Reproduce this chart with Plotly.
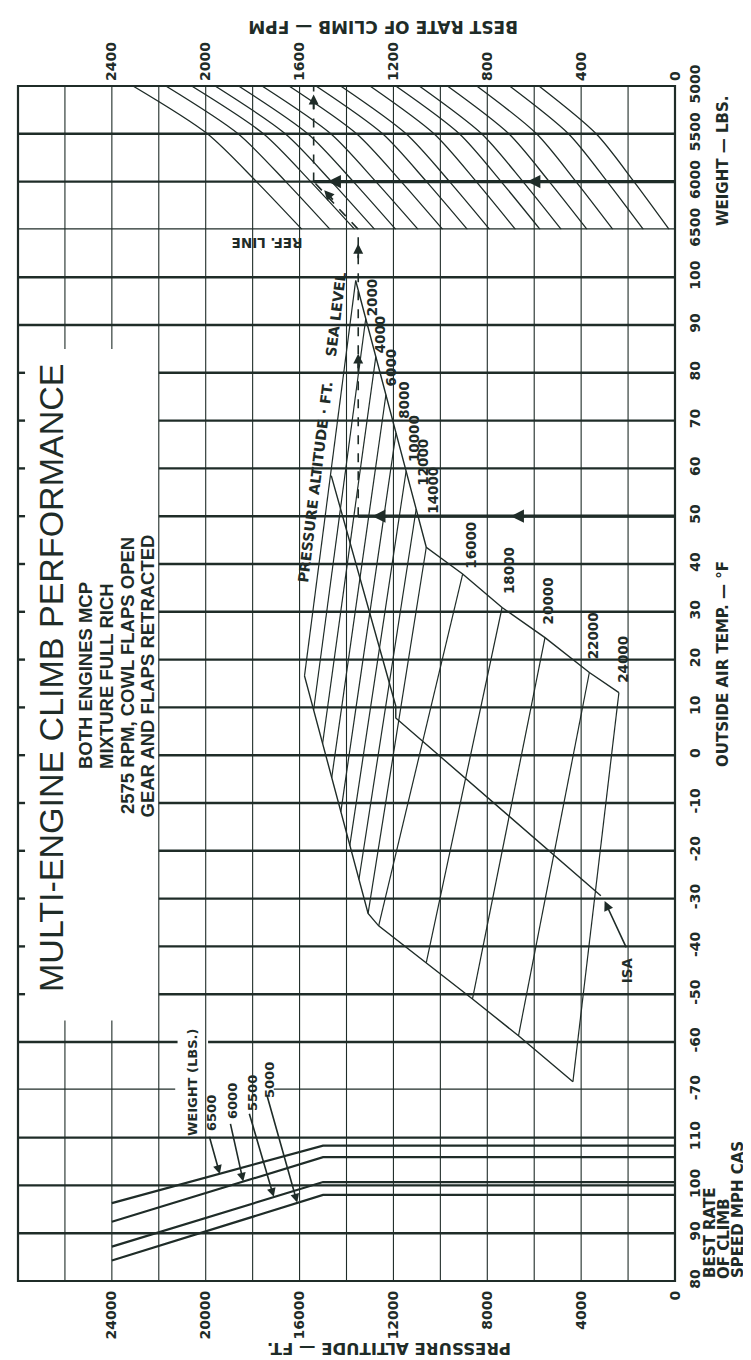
import plotly.graph_objects as go

INK = '#1f2c28'
BOLD = dict(family='DejaVu Sans', color=INK, weight='bold')

# ---------------- data ----------------
alt_ticks = [0, 4000, 8000, 12000, 16000, 20000, 24000]
alt_tick_text = ['0', '4000', '8000', '12000', '16000', '20000', '24000']
roc_ticks = [0, 400, 800, 1200, 1600, 2000, 2400]
roc_tick_text = ['0', '400', '800', '1200', '1600', '2000', '2400']
oat_ticks = [100, 90, 80, 70, 60, 50, 40, 30, 20, 10, 0, -10, -20, -30, -40, -50, -60, -70]
oat_tick_text = ['100', '90', '80', '70', '60', '50', '40', '30', '20', '10', '0',
                 '-10', '-20', '-30', '-40', '-50', '-60', '-70']
weight_ticks = [5000, 5500, 6000, 6500]
speed_ticks = [80, 90, 100, 110]

# weight-correction guide curves: best rate of climb (fpm) at each weight line
guide_weights = [5000, 5500, 6000, 6500]
guide_roc_5000 = [2310, 2170, 2060, 1960, 1860, 1760, 1645, 1530, 1425, 1300, 1190, 1090, 970, 845, 705, 580]
guide_roc_5500 = [1993, 1862, 1754, 1661, 1565, 1467, 1357, 1246, 1146, 1027, 919, 824, 708, 590, 454, 336]
guide_roc_6000 = [1784, 1659, 1553, 1464, 1371, 1275, 1167, 1059, 961, 847, 741, 648, 536, 422, 289, 175]
guide_roc_6500 = [1590, 1470, 1365, 1280, 1190, 1095, 990, 885, 790, 680, 575, 485, 375, 265, 135, 25]

# pressure-altitude lines: hot-limit end and cold-limit end (OAT degF, rate fpm)
press_alt = [0, 2000, 4000, 6000, 8000, 10000, 12000, 14000, 16000, 18000, 20000, 22000, 24000]
press_alt_text = ['SEA LEVEL', '2000', '4000', '6000', '8000', '10000', '12000', '14000',
                  '16000', '18000', '20000', '22000', '24000']
hot_oat = [99.3, 91.3, 83.4, 75.4, 67.4, 59.4, 51.5, 43.5, 37.9, 30.9, 24.6, 17.3, 13.1]
hot_roc = [1361, 1318, 1275, 1232, 1189, 1146, 1103, 1060, 905, 737, 554, 365, 239]
cold_oat = [16.6, 9.5, 2.4, -4.7, -11.8, -18.9, -26.0, -33.1, -35.7, -43.4, -51.0, -58.7, -68.3]
cold_roc = [1579, 1540, 1502, 1463, 1424, 1386, 1347, 1308, 1263, 1060, 863, 667, 435]
# label positions for the altitude lines (2000 ... 24000)
alt_label_oat = [95.8, 88.1, 81.1, 74.4, 66.3, 61.4, 55.5, 44.0, 38.6, 32.3, 25.0, 20.0]
alt_label_roc = [1291, 1256, 1211, 1158, 1113, 1074, 1032, 870, 710, 543, 351, 225]

# ISA line
isa_oat = [58.5, 10.3, 7.8, -29.4]
isa_roc = [1465, 1190, 1190, 316]

# worked example
ex_oat = 50
ex_roc_ref = 1350
ex_weight = 6000
ex_roc_final = 1540
ex_path_weight = [6500, 6250, 6000]
ex_path_roc = [1350, 1445, 1540]

# best rate of climb speed (mph CAS) vs pressure altitude
speed_weight = ['6500', '6000', '5500', '5000']
speed_alt = [0, 15000, 24000]
speed_mph = [[108.3, 108.3, 96.3],
             [105.9, 105.9, 92.4],
             [100.7, 100.7, 87.2],
             [98.0, 98.0, 84.3]]
speed_tip_alt = [19400, 18400, 17100, 16100]
speed_tip_mph = [102.4, 100.8, 97.6, 96.4]
speed_tail_alt = [19860, 18960, 18160, 17400]
speed_tail_mph = [110.5, 113.2, 115.3, 119.0]

# ---------------- figure ----------------
L, T, W, H = 10, 78, 657, 1195


def px(x, y):
    return (x - L) / W, 1 - (y - T) / H


def uy(u):
    return 1 - u / 25.0


fig = go.Figure()

# guide curves (weight panel)
for a, b, c, d in zip(guide_roc_5000, guide_roc_5500, guide_roc_6000, guide_roc_6500):
    fig.add_trace(go.Scatter(x=[a, b, c, d], y=guide_weights, mode='lines',
                             line=dict(color=INK, width=1.3, shape='spline', smoothing=0.8),
                             xaxis='x2', yaxis='y2', hoverinfo='skip'))

# altitude lines
xs, ys = [], []
for h_r, h_t, c_r, c_t in zip(hot_roc, hot_oat, cold_roc, cold_oat):
    xs += [h_r, c_r, None]
    ys += [h_t, c_t, None]
fig.add_trace(go.Scatter(x=xs, y=ys, mode='lines', line=dict(color=INK, width=1.2),
                         xaxis='x2', yaxis='y', hoverinfo='skip'))
fig.add_trace(go.Scatter(x=hot_roc, y=hot_oat, mode='lines', line=dict(color=INK, width=1.4),
                         xaxis='x2', yaxis='y', hoverinfo='skip'))
fig.add_trace(go.Scatter(x=cold_roc, y=cold_oat, mode='lines', line=dict(color=INK, width=1.4),
                         xaxis='x2', yaxis='y', hoverinfo='skip'))
fig.add_trace(go.Scatter(x=isa_roc, y=isa_oat, mode='lines', line=dict(color=INK, width=1.4),
                         xaxis='x2', yaxis='y', hoverinfo='skip'))

# worked example
fig.add_trace(go.Scatter(x=[0, ex_roc_ref], y=[ex_oat, ex_oat], mode='lines',
                         line=dict(color=INK, width=3.2), xaxis='x2', yaxis='y', hoverinfo='skip'))
fig.add_trace(go.Scatter(x=[ex_roc_ref, ex_roc_ref], y=[ex_oat, 110], mode='lines',
                         line=dict(color=INK, width=1.6, dash='dash'), xaxis='x2', yaxis='y', hoverinfo='skip'))
fig.add_trace(go.Scatter(x=ex_path_roc, y=ex_path_weight, mode='lines',
                         line=dict(color=INK, width=1.6, dash='dash', shape='spline'),
                         xaxis='x2', yaxis='y2', hoverinfo='skip'))
fig.add_trace(go.Scatter(x=[ex_roc_final, ex_roc_final], y=[ex_weight, 5000], mode='lines',
                         line=dict(color=INK, width=1.6, dash='dash'), xaxis='x2', yaxis='y2', hoverinfo='skip'))
fig.add_trace(go.Scatter(x=[0, ex_roc_final], y=[ex_weight, ex_weight], mode='lines',
                         line=dict(color=INK, width=3.2), xaxis='x2', yaxis='y2', hoverinfo='skip'))

# speed lines
for row in speed_mph:
    fig.add_trace(go.Scatter(x=speed_alt, y=row, mode='lines', line=dict(color=INK, width=2.2),
                             xaxis='x', yaxis='y3', hoverinfo='skip'))

# ---------------- grid shapes ----------------
shapes = []
for a in range(2000, 28000, 2000):
    if a in (24000, 26000):
        segs = [(0, uy(19.55)), (uy(5.5), 1)]
    else:
        segs = [(0, 1)]
    for y0, y1 in segs:
        shapes.append(dict(type='line', xref='x', yref='paper', x0=a, x1=a, y0=y0, y1=y1,
                           line=dict(color=INK, width=1.1)))
for w in weight_ticks[1:]:
    shapes.append(dict(type='line', xref='paper', yref='y2', x0=0, x1=1, y0=w, y1=w,
                       line=dict(color=INK, width=2.4)))
for t in oat_ticks:
    if -50 <= t <= 80:
        segs = [(28000, 27700), (22000, 0)]
    elif t == -60:
        segs = [(28000, 21200), (19900, 0)]
    elif t == -70:
        segs = [(28000, 21300), (17100, 0)]
    else:
        segs = [(28000, 0)]
    for x0, x1 in segs:
        shapes.append(dict(type='line', xref='x', yref='y', x0=x0, x1=x1, y0=t, y1=t,
                           line=dict(color=INK, width=2.4)))
for s in speed_ticks[1:]:
    shapes.append(dict(type='line', xref='paper', yref='y3', x0=0, x1=1, y0=s, y1=s,
                       line=dict(color=INK, width=2.4)))
shapes.append(dict(type='rect', xref='paper', yref='paper', x0=0, x1=1, y0=0, y1=1,
                   line=dict(color=INK, width=2.2)))

# ---------------- annotations ----------------
ann = []


def text_px(x, y, s, size=14, angle=-90, bold=True, family='DejaVu Sans'):
    xp, yp = px(x, y)
    f = dict(family=family, size=size, color=INK)
    if bold:
        f['weight'] = 'bold'
    ann.append(dict(xref='paper', yref='paper', x=xp, y=yp, text=s, showarrow=False,
                    xanchor='center', yanchor='middle', textangle=angle, font=f))


text_px(43, 670, 'MULTI-ENGINE CLIMB PERFORMANCE', size=34, bold=False, family='Liberation Sans')
for xx, s in zip([77, 98, 119, 138.5], ['BOTH ENGINES MCP', 'MIXTURE FULL RICH',
                                        '2575 RPM, COWL FLAPS OPEN', 'GEAR AND FLAPS RETRACTED']):
    text_px(xx, 668, s, size=18.5, family='Liberation Sans')
text_px(375, 19, 'BEST RATE OF CLIMB — FPM', size=17, angle=180)
text_px(381, 1340, 'PRESSURE ALTITUDE — FT.', size=16.5, angle=180)
text_px(715, 656, 'OUTSIDE AIR TEMP. — °F', size=15)
text_px(715, 153, 'WEIGHT — LBS.', size=15)
text_px(702, 1225, 'BEST RATE', size=15)
text_px(716, 1231, 'OF CLIMB', size=15)
text_px(730, 1202, 'SPEED MPH CAS', size=15)

# speed panel weight labels
text_px(184, 1075, 'WEIGHT (LBS.)', size=13)
for xx, yy, s in zip([203, 224, 244, 261], [1105, 1093, 1085, 1072], speed_weight):
    text_px(xx, yy, s, size=13)

# labels in data coordinates
ann.append(dict(xref='x2', yref='y', x=1740, y=107.2, text='REF. LINE', showarrow=False,
                textangle=180, font=dict(size=13.5, **BOLD)))
ann.append(dict(xref='x2', yref='y', x=1505, y=68.5,
                text='PRESSURE ALTITUDE · FT.     ' + press_alt_text[0],
                showarrow=False, textangle=-83, font=dict(size=14.3, **BOLD)))
for s, t, r in zip(press_alt_text[1:], alt_label_oat, alt_label_roc):
    ann.append(dict(xref='x2', yref='y', x=r, y=t, text=s, showarrow=False, textangle=-90,
                    font=dict(size=13.5, **BOLD)))
ann.append(dict(xref='x2', yref='y', x=205, y=-45, text='ISA', showarrow=False, textangle=-90,
                font=dict(size=13.5, **BOLD)))
ann.append(dict(xref='x2', yref='y', x=300, y=-30.5, axref='x2', ayref='y', ax=205, ay=-40.5,
                text='', showarrow=True, arrowhead=2, arrowsize=1.2, arrowwidth=1.6, arrowcolor=INK))

# arrowheads along the worked example
for r in (700, 1290):
    ann.append(dict(xref='x2', yref='y', x=r, y=ex_oat, ax=16, ay=0, text='', showarrow=True,
                    arrowhead=2, arrowsize=1.1, arrowwidth=2.4, arrowcolor=INK))
for t in (84, 107):
    ann.append(dict(xref='x2', yref='y', x=ex_roc_ref, y=t, ax=0, ay=16, text='', showarrow=True,
                    arrowhead=2, arrowsize=1.1, arrowwidth=1.8, arrowcolor=INK))
for r in (630, 1480):
    ann.append(dict(xref='x2', yref='y2', x=r, y=ex_weight, ax=16, ay=0, text='', showarrow=True,
                    arrowhead=2, arrowsize=1.1, arrowwidth=2.4, arrowcolor=INK))
ann.append(dict(xref='x2', yref='y2', x=ex_roc_final, y=5090, ax=0, ay=16, text='', showarrow=True,
                arrowhead=2, arrowsize=1.1, arrowwidth=1.8, arrowcolor=INK))
ann.append(dict(xref='x2', yref='y2', x=1495, y=6090, ax=10, ay=11, text='', showarrow=True,
                arrowhead=2, arrowsize=1.1, arrowwidth=1.8, arrowcolor=INK))

# speed panel arrows
for ta, tm, pa, pm in zip(speed_tail_alt, speed_tail_mph, speed_tip_alt, speed_tip_mph):
    ann.append(dict(xref='x', yref='y3', x=pa, y=pm, axref='x', ayref='y3', ax=ta, ay=tm, text='',
                    showarrow=True, arrowhead=2, arrowsize=1.1, arrowwidth=1.6, arrowcolor=INK))

tickfont = dict(size=14, **BOLD)
common = dict(showgrid=False, zeroline=False, showline=False, ticks='', tickmode='array',
              tickangle=-90, tickfont=tickfont)
fig.update_layout(
    width=751, height=1360, margin=dict(l=L, r=751 - L - W, t=T, b=1360 - T - H),
    paper_bgcolor='white', plot_bgcolor='rgba(0,0,0,0)', showlegend=False,
    xaxis=dict(domain=[0, 1], range=[28000.01, -0.01], anchor='y3', side='bottom',
               tickvals=alt_ticks, ticktext=alt_tick_text, ticklabelstandoff=6, **common),
    xaxis2=dict(domain=[0, 1], range=[2800.001, -0.001], anchor='y2', side='top',
                tickvals=roc_ticks, ticktext=roc_tick_text, ticklabelstandoff=4, **common),
    yaxis=dict(domain=[uy(21), uy(3)], range=[-70.001, 110], anchor='x2', side='right',
               tickvals=oat_ticks, ticktext=oat_tick_text, ticklabelstandoff=10, **common),
    yaxis2=dict(domain=[uy(3), 1], range=[6500.01, 4999.99], anchor='x2', side='right',
                tickvals=weight_ticks, ticklabelstandoff=10, **common),
    yaxis3=dict(domain=[0, uy(21)], range=[79.999, 120], anchor='x', side='right',
                tickvals=speed_ticks, ticklabelstandoff=10, **common),
    shapes=shapes, annotations=ann,
)

fig.write_html('out.html')
